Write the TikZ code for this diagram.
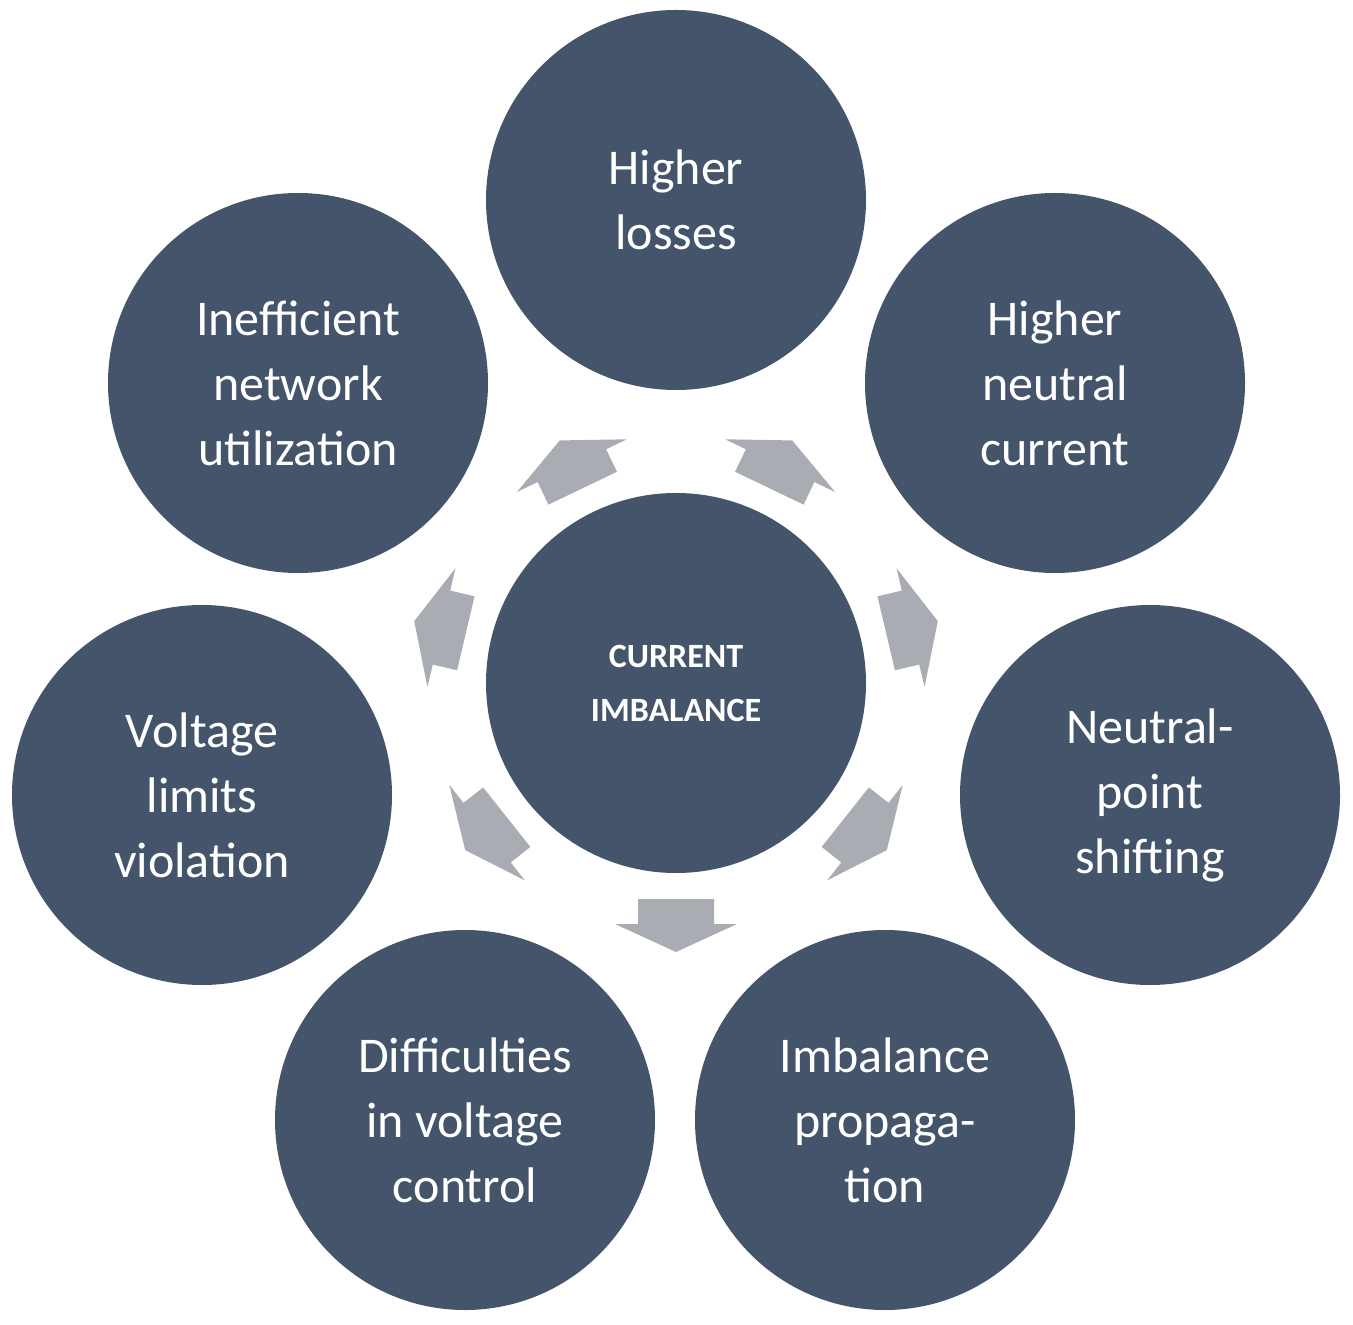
\documentclass[tikz,border=0pt]{standalone}
\usepackage{fontspec}
\setmainfont{Carlito}
\begin{document}
\begin{tikzpicture}[x=0.5pt,y=-0.5pt,
  circ/.style={circle,fill=slate,minimum size=190pt,inner sep=0pt,text=white,align=center,font=\fontsize{25}{32.5}\selectfont},
  arr/.style={fill=arrgray}]
\definecolor{slate}{HTML}{44546A}
\definecolor{arrgray}{HTML}{A9ADB3}
\useasboundingbox (0,0) rectangle (1353,1325);
\node[circ,font=\bfseries\fontsize{17}{27}\selectfont] (c) at (676,683) {CURRENT\\IMBALANCE};
\node[circ] (n1) at (676,200) {Higher\\losses};
\node[circ] (n2) at (1055,383) {Higher\\neutral\\current};
\node[circ] (n3) at (1150,795) {Neutral-\\point\\shifting};
\node[circ] (n4) at (885,1120) {Imbalance\\propaga-\\tion};
\node[circ] (n5) at (465,1120) {Difficulties\\in voltage\\control};
\node[circ] (n6) at (202,795) {Voltage\\limits\\violation};
\node[circ] (n7) at (298,383) {Inefficient\\network\\utilization};
\foreach \a in {90,38.4,-13.3,-64.4,-115.6,-166.7,141.6}{
  \begin{scope}[shift={(676,683)},rotate=-\a,shift={(243,0)}]
    \fill[arr] (-27,-38) -- (-2,-38) -- (-2,-61) -- (26,0) -- (-2,61) -- (-2,38) -- (-27,38) -- cycle;
  \end{scope}}
\end{tikzpicture}
\end{document}
